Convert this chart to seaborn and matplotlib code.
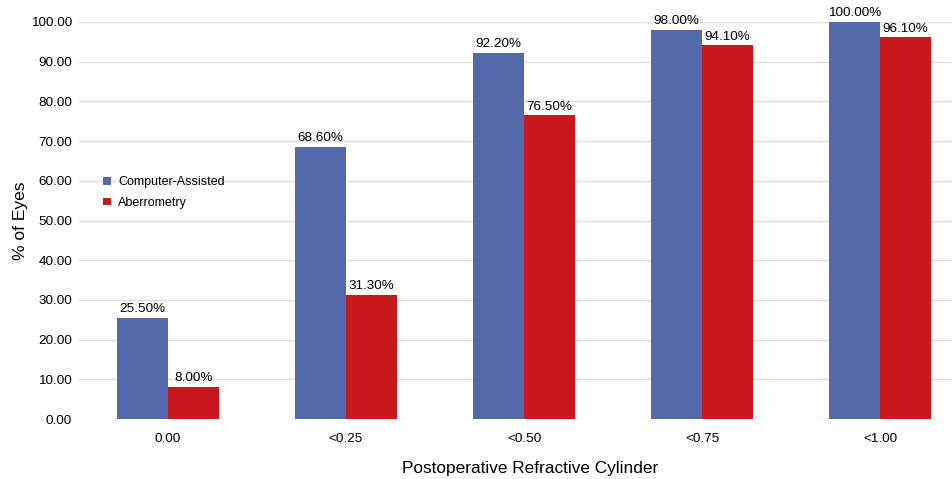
import matplotlib
matplotlib.use("Agg")
import matplotlib.pyplot as plt
import seaborn as sns
import pandas as pd

categories = ["0.00", "<0.25", "<0.50", "<0.75", "<1.00"]
computer_assisted = [25.5, 68.6, 92.2, 98.0, 100.0]
aberrometry = [8.0, 31.3, 76.5, 94.1, 96.1]
series_names = ["Computer-Assisted", "Aberrometry"]
colors = ["#5469AA", "#C8171D"]

df = pd.DataFrame({
    "cyl": categories * 2,
    "pct": computer_assisted + aberrometry,
    "method": [series_names[0]] * len(categories) + [series_names[1]] * len(categories),
})

sns.set_theme(style="white")
plt.rcParams["font.family"] = ["Liberation Sans", "DejaVu Sans"]

fig = plt.figure(figsize=(9.52, 4.79), dpi=100)
ax = fig.add_axes([79 / 952, 1 - 419 / 479, 1 - 79 / 952, (419 - 22) / 479])

sns.barplot(data=df, x="cyl", y="pct", hue="method", order=categories,
            hue_order=series_names, palette=colors, width=0.573, gap=0,
            linewidth=0, saturation=1, ax=ax)

for cont in ax.containers:
    ax.bar_label(cont, fmt="%.2f%%", padding=2, fontsize=9.7, color="#000000")

ax.set_ylim(0, 100)
ax.set_xlim(-0.5, 4.404)
ax.set_yticks(range(0, 101, 10))
ax.set_yticklabels([f"{v:.2f}" for v in range(0, 101, 10)])
ax.yaxis.grid(True, color="#dedede", linewidth=1)
ax.set_axisbelow(True)
for s in ax.spines.values():
    s.set_visible(False)
ax.tick_params(axis="y", length=0, pad=5, labelsize=9.7, labelcolor="#000000")
ax.tick_params(axis="x", length=0, pad=10, labelsize=9.7, labelcolor="#000000")
ax.set_ylabel("% of Eyes", fontsize=12.5, labelpad=2, color="#000000")
ax.set_xlabel("Postoperative Refractive Cylinder", fontsize=12.4, color="#000000")
ax.xaxis.set_label_coords(0.517, -0.105)

leg = ax.legend(loc="upper left", bbox_to_anchor=(0.015, 0.64), frameon=False,
                fontsize=9, handlelength=0.6, handleheight=0.6, handletextpad=0.6,
                labelspacing=0.7)
for t in leg.get_texts():
    t.set_color("#000000")

fig.savefig("out.png", dpi=100)
